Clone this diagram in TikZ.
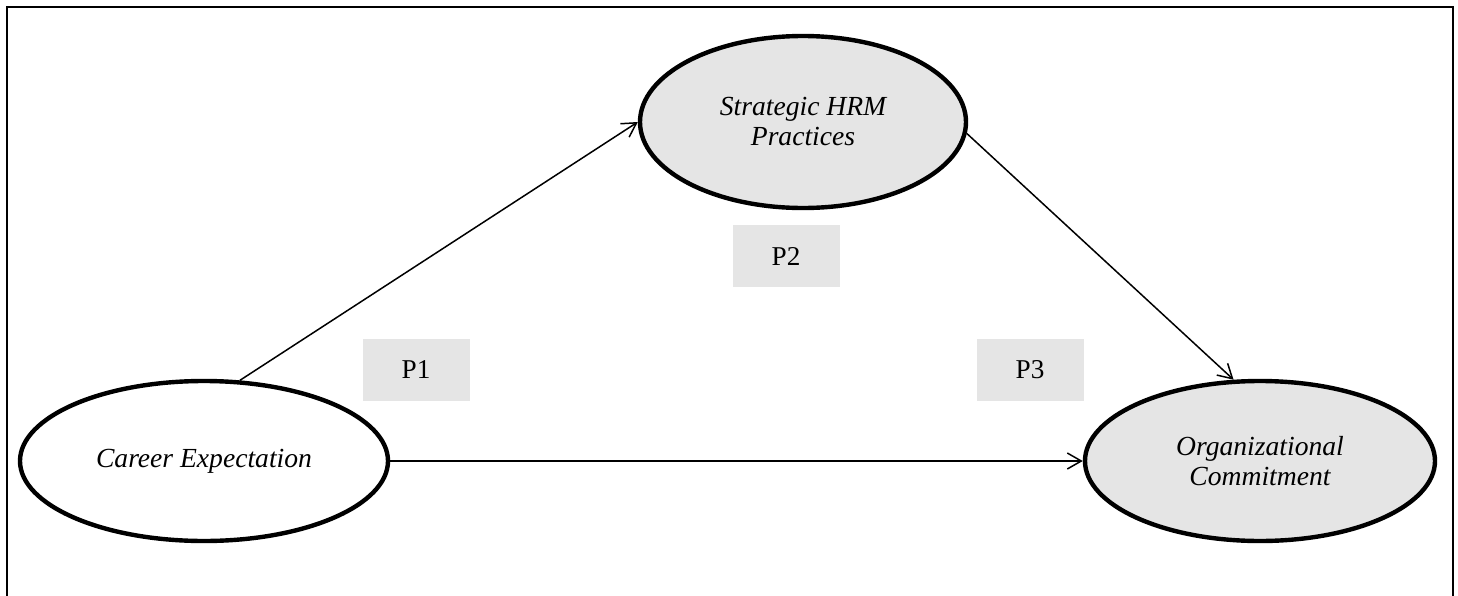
\documentclass[tikz,border=0pt]{standalone}
\usepackage{fontspec}
\setmainfont{Liberation Serif}
\usetikzlibrary{shapes.geometric,arrows.meta}

\begin{document}
\begin{tikzpicture}[
  x=0.5pt,
  y=-0.5pt,
  construct/.style={
    ellipse,
    draw,
    line width=2.2pt,
    inner sep=0pt,
    align=center,
    font=\fontsize{13.8}{15}\selectfont\itshape
  },
  pbox/.style={
    rectangle,
    fill=gray!20,
    minimum width=53.5pt,
    minimum height=31pt,
    inner sep=0pt,
    font=\fontsize{13.6}{15}\selectfont
  },
  path/.style={
    -{Straight Barb[length=7pt,width=8pt]},
    line width=0.75pt
  }
]
\useasboundingbox (0,0) rectangle (1458,595);
\draw[line width=1pt] (7,600) -- (7,7) -- (1453,7) -- (1453,600);
% constructs
\node[construct, minimum width=184pt, minimum height=80pt] (career) at (204,461) {Career Expectation};
\node[construct, fill=gray!20, minimum width=163pt, minimum height=86pt] (shrm) at (803,122) {Strategic HRM\\Practices};
\node[construct, fill=gray!20, minimum width=175pt, minimum height=80pt] (orgcom) at (1260,461) {Organizational\\Commitment};
% propositions
\node[pbox] (p1) at (416,370) {P1};
\node[pbox] (p2) at (786,256) {P2};
\node[pbox] (p3) at (1030,370) {P3};
% paths
\draw[path] (career.66) -- (shrm.180);
\draw[path] (shrm.356) -- (orgcom.108);
\draw[path] (career.east) -- (orgcom.west);
\end{tikzpicture}
\end{document}
